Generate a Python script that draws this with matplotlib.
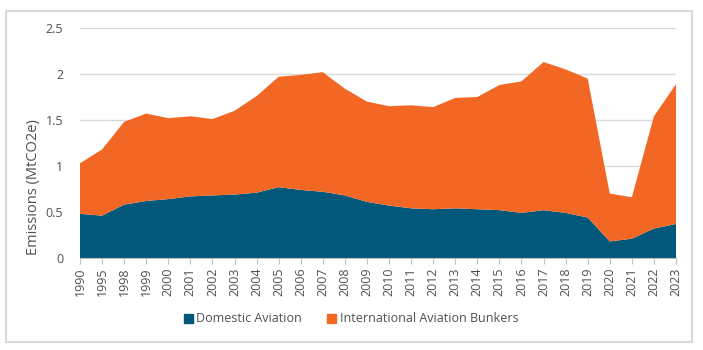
import matplotlib
matplotlib.use("Agg")
import matplotlib.pyplot as plt
import numpy as np
from matplotlib.patches import Patch, Rectangle

plt.rcParams['font.family'] = ['Open Sans', 'DejaVu Sans']

# Data
years = ['1990', '1995'] + [str(y) for y in range(1998, 2024)]
domestic = [0.48, 0.46, 0.58, 0.62, 0.64, 0.67, 0.68, 0.69, 0.71, 0.77,
            0.74, 0.72, 0.68, 0.61, 0.57, 0.54, 0.53, 0.54, 0.53, 0.52,
            0.49, 0.52, 0.49, 0.44, 0.18, 0.21, 0.32, 0.37]
total = [1.03, 1.18, 1.48, 1.57, 1.52, 1.54, 1.51, 1.60, 1.76, 1.97,
         1.99, 2.02, 1.84, 1.70, 1.65, 1.66, 1.64, 1.74, 1.75, 1.88,
         1.92, 2.13, 2.05, 1.95, 0.70, 0.66, 1.54, 1.89]
international = [round(t - d, 3) for t, d in zip(total, domestic)]

c_dom = '#02587A'
c_int = '#F26724'
txt = '#505050'

fig = plt.figure(figsize=(7.03, 3.5), dpi=100, facecolor='white')
ax = fig.add_axes([80/703, 92/350, 596/703, 230/350])

x = np.arange(len(years))
ax.stackplot(x, domestic, international, colors=[c_dom, c_int], lw=0)

ax.set_xlim(0, len(years) - 1)
ax.set_ylim(0, 2.5)
ax.set_yticks([0, 0.5, 1, 1.5, 2, 2.5])
ax.set_yticklabels(['0', '0.5', '1', '1.5', '2', '2.5'])
ax.set_xticks(x)
ax.set_xticklabels(years, rotation=90)

ax.grid(axis='y', color='#d9d9d9', lw=1)
ax.set_axisbelow(True)
for s in ['top', 'right', 'left']:
    ax.spines[s].set_visible(False)
ax.spines['bottom'].set_color('#bfbfbf')
ax.tick_params(axis='y', length=0, pad=12, labelsize=9, labelcolor=txt)
ax.tick_params(axis='x', length=4, color='#bfbfbf', pad=3, labelsize=9, labelcolor=txt)

ax.set_ylabel('Emissions (MtCO2e)', fontsize=10.5, color=txt)
ax.yaxis.set_label_coords(-0.065, 0.31)

handles = [Patch(color=c_dom, label='Domestic Aviation'),
           Patch(color=c_int, label='International Aviation Bunkers')]
fig.legend(handles=handles, loc='center', bbox_to_anchor=(351/703, 1 - 319/350),
           ncol=2, frameon=False, fontsize=9, labelcolor=txt,
           handlelength=0.7, handleheight=0.7, handletextpad=0.3, columnspacing=2.0)

# outer chart border
fig.patches.append(Rectangle((6/703, 8/350), 686/703, 331/350, transform=fig.transFigure,
                             fill=False, edgecolor='#d9d9d9', lw=1.5))

fig.savefig('out.png', dpi=100)
